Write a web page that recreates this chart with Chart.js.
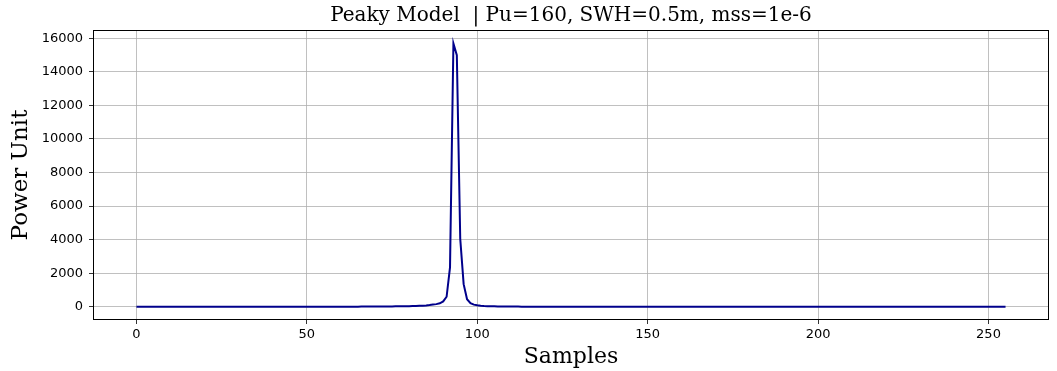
<!DOCTYPE html>
<html>
<head>
<meta charset="utf-8">
<script src="https://cdn.jsdelivr.net/npm/chart.js@4"></script>
<style>
  body { margin: 0; background: #fff; }
  canvas { display: block; }
</style>
</head>
<body>
<canvas id="chart" width="1057" height="371"></canvas>
<script>
// waveform values, one per sample (0..255)
// samples 0..88
const leftTail = [
  1, 1, 1, 1, 1, 1, 1, 1, 1, 1,
  1, 1, 1, 1, 1, 1, 1, 1, 1, 1,
  2, 2, 2, 2, 2, 2, 2, 2, 2, 2,
  2, 2, 2, 2, 3, 3, 3, 3, 3, 3,
  3, 3, 3, 4, 4, 4, 4, 4, 4, 5,
  5, 5, 5, 6, 6, 6, 7, 7, 7, 8,
  8, 9, 9, 10, 10, 11, 12, 13, 14, 15,
  16, 17, 19, 20, 22, 24, 27, 30, 33, 37,
  41, 46, 52, 60, 70, 85, 105, 135, 160
];
// samples 89..100
const peak = [210, 320, 600, 2350, 15680, 14980, 4050, 1350, 450, 220, 130, 90];
// samples 101..255
const rightTail = [
  65, 50, 40, 33, 28, 24, 21, 18, 16, 14,
  13, 12, 11, 10, 9, 9, 8, 8, 7, 7,
  6, 6, 6, 5, 5, 5, 5, 4, 4, 4,
  4, 4, 4, 3, 3, 3, 3, 3, 3, 3,
  3, 3, 3, 2, 2, 2, 2, 2, 2, 2,
  2, 2, 2, 2, 2, 2, 2, 2, 2, 2,
  2, 2, 2, 2, 2, 2, 1, 1, 1, 1,
  1, 1, 1, 1, 1, 1, 1, 1, 1, 1,
  1, 1, 1, 1, 1, 1, 1, 1, 1, 1,
  1, 1, 1, 1, 1, 1, 1, 1, 1, 1,
  1, 1, 1, 1, 1, 1, 1, 1, 1, 1,
  1, 1, 1, 1, 1, 1, 1, 1, 1, 1,
  1, 1, 1, 1, 1, 1, 1, 1, 1, 1,
  1, 1, 1, 1, 1, 1, 1, 1, 1, 1,
  1, 1, 1, 1, 1, 1, 1, 1, 1, 1,
  1, 1, 1, 1, 1
];
const power = [...leftTail, ...peak, ...rightTail];
const samples = power.map((_, i) => i);

const xTicks = [0, 50, 100, 150, 200, 250];
const yTicks = [0, 2000, 4000, 6000, 8000, 10000, 12000, 14000, 16000];

const titleText = "Peaky Model  | Pu=160, SWH=0.5m, mss=1e-6";
const xLabel = "Samples";
const yLabel = "Power Unit";

// matplotlib style box around the plot area
const frame = {
  id: "frame",
  afterDraw(chart) {
    const a = chart.chartArea, ctx = chart.ctx;
    ctx.save();
    ctx.strokeStyle = "#000";
    ctx.lineWidth = 1;
    ctx.strokeRect(a.left + 0.5, a.top + 0.5, a.right - a.left - 1, a.bottom - a.top - 1);
    ctx.restore();
  }
};

const serif = "'DejaVu Serif', serif";
const sans = "'DejaVu Sans', sans-serif";

new Chart(document.getElementById("chart"), {
  type: "line",
  data: {
    datasets: [{
      data: samples.map((x, i) => ({ x: x, y: power[i] })),
      borderColor: "#00008b",
      borderWidth: 2,
      pointRadius: 0,
      tension: 0,
      fill: false
    }]
  },
  options: {
    responsive: false,
    animation: false,
    layout: { padding: { left: 0, right: 8, top: 0, bottom: 0 } },
    plugins: {
      legend: { display: false },
      tooltip: { enabled: false },
      title: {
        display: true,
        fullSize: false, // centre over the plot area like matplotlib
        text: titleText,
        color: "#000",
        font: { family: serif, size: 20, weight: "normal" },
        padding: { top: 4, bottom: 2 }
      }
    },
    scales: {
      x: {
        type: "linear",
        min: -12.75,
        max: 267.75,
        afterBuildTicks: s => { s.ticks = xTicks.map(v => ({ value: v })); },
        afterFit: s => { s.height = 51; },
        grid: { color: "#b0b0b0", lineWidth: 0.8, tickLength: 4, tickColor: "#000" },
        border: { display: false },
        ticks: { color: "#000", font: { family: sans, size: 13 }, padding: 3, maxRotation: 0 },
        title: {
          display: true, text: xLabel, color: "#000",
          font: { family: serif, size: 22 },
          padding: { top: 0, bottom: 1 }
        }
      },
      y: {
        min: -785,
        max: 16485,
        afterBuildTicks: s => { s.ticks = yTicks.map(v => ({ value: v })); },
        afterFit: s => { s.width = 93; },
        grid: { color: "#b0b0b0", lineWidth: 0.8, tickLength: 4, tickColor: "#000" },
        border: { display: false },
        ticks: { color: "#000", font: { family: sans, size: 13 }, padding: 6, callback: v => String(v) },
        title: {
          display: true, text: yLabel, color: "#000",
          font: { family: serif, size: 23 },
          padding: { top: 7, bottom: 0 }
        }
      }
    }
  },
  plugins: [frame]
});
</script>
</body>
</html>
